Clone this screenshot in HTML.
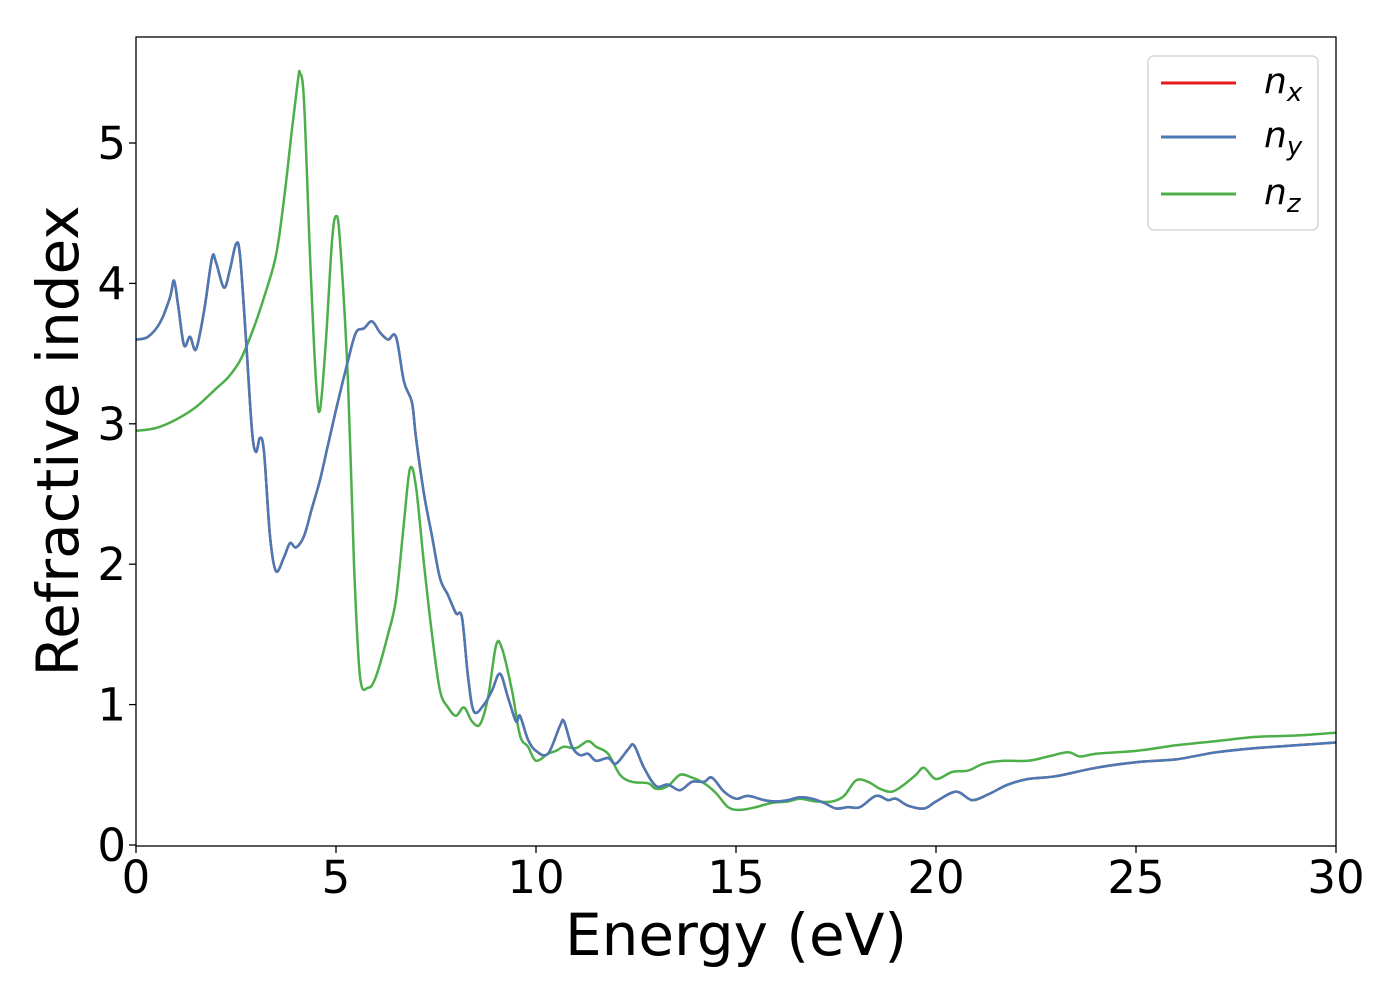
<!DOCTYPE html>
<html><head><meta charset="utf-8"><style>
body{margin:0;background:#fff;}
svg text{font-family:"DejaVu Sans","Liberation Sans",sans-serif;fill:#000;}
</style></head><body>
<svg id="chart" width="1400" height="1000" xmlns="http://www.w3.org/2000/svg">
<g id="plot"></g>
</svg>
<script>
const blueE=[0,0.3,0.6,0.85,0.95,1.05,1.2,1.35,1.5,1.7,1.9,2.0,2.2,2.35,2.5,2.6,2.75,2.9,3.0,3.1,3.2,3.35,3.5,3.7,3.85,4.0,4.2,4.4,4.6,4.8,5.0,5.3,5.5,5.7,5.9,6.1,6.3,6.5,6.7,6.9,7.0,7.2,7.4,7.6,7.8,8.0,8.15,8.3,8.45,8.7,8.9,9.1,9.3,9.5,9.6,9.8,10.0,10.3,10.6,10.7,10.9,11.1,11.3,11.5,11.8,12.0,12.3,12.45,12.7,13.0,13.3,13.6,13.9,14.2,14.4,14.7,15.0,15.3,15.7,16.0,16.3,16.6,16.9,17.2,17.5,17.8,18.1,18.5,18.8,19.0,19.3,19.7,20.0,20.5,20.9,21.3,21.8,22.3,23,24,25,26,27,28,29,30];
const blueN=[3.6,3.62,3.72,3.9,4.02,3.85,3.56,3.62,3.53,3.8,4.18,4.15,3.97,4.1,4.28,4.2,3.6,2.95,2.8,2.9,2.8,2.2,1.95,2.05,2.15,2.12,2.2,2.4,2.6,2.85,3.1,3.45,3.65,3.68,3.73,3.65,3.6,3.62,3.3,3.15,2.9,2.5,2.2,1.9,1.78,1.65,1.62,1.2,0.95,1.0,1.1,1.22,1.05,0.88,0.92,0.75,0.67,0.65,0.85,0.88,0.7,0.64,0.65,0.6,0.62,0.58,0.68,0.71,0.55,0.42,0.43,0.39,0.45,0.45,0.48,0.38,0.33,0.35,0.32,0.31,0.32,0.34,0.33,0.3,0.26,0.27,0.27,0.35,0.32,0.33,0.28,0.26,0.31,0.38,0.32,0.36,0.43,0.47,0.49,0.55,0.59,0.61,0.66,0.69,0.71,0.73];
const greenE=[0,0.5,1.0,1.5,2.0,2.3,2.6,2.9,3.2,3.5,3.7,3.9,4.05,4.1,4.2,4.35,4.5,4.6,4.75,4.9,5.0,5.1,5.3,5.45,5.6,5.8,6.0,6.3,6.5,6.7,6.85,7.0,7.2,7.4,7.6,7.8,8.0,8.2,8.4,8.6,8.8,9.0,9.15,9.4,9.6,9.8,10.0,10.3,10.5,10.7,11.0,11.3,11.5,11.8,12.1,12.4,12.8,13.0,13.3,13.6,13.9,14.2,14.5,14.8,15.1,15.5,15.9,16.3,16.6,17.0,17.4,17.7,18.0,18.3,18.6,18.9,19.2,19.5,19.7,20.0,20.4,20.8,21.2,21.7,22.3,22.8,23.3,23.6,24,25,26,27,28,29,30];
const greenN=[2.95,2.97,3.03,3.12,3.25,3.33,3.45,3.65,3.9,4.2,4.6,5.1,5.45,5.5,5.3,4.2,3.3,3.1,3.6,4.3,4.48,4.3,3.3,2.0,1.2,1.12,1.2,1.5,1.75,2.3,2.68,2.55,2.0,1.5,1.1,0.98,0.92,0.98,0.88,0.86,1.05,1.42,1.4,1.1,0.78,0.7,0.6,0.65,0.67,0.7,0.69,0.74,0.7,0.65,0.5,0.45,0.44,0.4,0.42,0.5,0.48,0.44,0.37,0.27,0.25,0.27,0.3,0.31,0.33,0.31,0.31,0.35,0.46,0.45,0.4,0.38,0.43,0.5,0.55,0.47,0.52,0.53,0.58,0.6,0.6,0.63,0.66,0.63,0.65,0.67,0.71,0.74,0.77,0.78,0.8];
const xTicks=[0,5,10,15,20,25,30];
const yTicks=[0,1,2,3,4,5];
const L=136,R=1336,T=37,B=846;
const xs=e=>L+(e/30)*(R-L);
const ys=n=>845-n*140.4;
const g=document.getElementById('plot');
const NS='http://www.w3.org/2000/svg';
function mk(t,a,p){const el=document.createElementNS(NS,t);for(const k in a)el.setAttribute(k,a[k]);(p||g).appendChild(el);return el;}
function pathD(E,N){const P=E.map((e,i)=>[xs(e),ys(N[i])]);let d='M'+P[0][0]+','+P[0][1];
for(let i=0;i<P.length-1;i++){const p0=P[i-1]||P[i],p1=P[i],p2=P[i+1],p3=P[i+2]||P[i+1];
const c1=[p1[0]+(p2[0]-p0[0])/6,p1[1]+(p2[1]-p0[1])/6],c2=[p2[0]-(p3[0]-p1[0])/6,p2[1]-(p3[1]-p1[1])/6];
d+=' C'+c1[0].toFixed(1)+','+c1[1].toFixed(1)+' '+c2[0].toFixed(1)+','+c2[1].toFixed(1)+' '+p2[0].toFixed(1)+','+p2[1].toFixed(1);}return d;}
const cp=mk('clipPath',{id:'cp'});mk('rect',{x:L,y:T,width:R-L,height:B-T},cp);
let s=mk('path',{d:pathD(blueE,blueN),fill:'none',stroke:'#e41a1c','stroke-width':2.5,'clip-path':'url(#cp)'});

s=mk('path',{d:pathD(greenE,greenN),fill:'none',stroke:'#4daf4a','stroke-width':2.5,'clip-path':'url(#cp)'});

s=mk('path',{d:pathD(blueE,blueN),fill:'none',stroke:'#4a7ab5','stroke-width':2.5,'clip-path':'url(#cp)'});

let f=mk('rect',{x:L,y:T,width:R-L,height:B-T,fill:'none',stroke:'#000','stroke-width':1.3});

xTicks.forEach(v=>{mk('line',{x1:xs(v),x2:xs(v),y1:B,y2:B+7,stroke:'#000','stroke-width':1.3});
const t=mk('text',{x:xs(v),y:893,'text-anchor':'middle','font-size':45});t.textContent=v;
});
yTicks.forEach(v=>{mk('line',{x1:L-7,x2:L,y1:ys(v),y2:ys(v),stroke:'#000','stroke-width':1.3});
const t=mk('text',{x:L-10,y:ys(v)+16,'text-anchor':'end','font-size':45});t.textContent=v;
});
let xl=mk('text',{x:736,y:955,'text-anchor':'middle','font-size':58});xl.textContent='Energy (eV)';

let yl=mk('text',{x:0,y:0,'text-anchor':'middle','font-size':58,transform:'translate(78,441) rotate(-90)'});yl.textContent='Refractive index';

const lg=mk('g',{});
mk('rect',{x:1148,y:56,width:170,height:174,rx:6,fill:'#fff',stroke:'#d0d0d0','stroke-width':1.3},lg);
const legNames=['x','y','z'];const legCols=['#e41a1c','#4a7ab5','#4daf4a'];const legY=[83,137,194];
legNames.forEach((nm,i)=>{mk('line',{x1:1161,x2:1236,y1:legY[i],y2:legY[i],stroke:legCols[i],'stroke-width':3},lg);
const t=mk('text',{x:1264,y:legY[i]+10,'font-size':36,'font-style':'italic'},lg);

t.innerHTML='n<tspan font-size="26" dy="8">'+nm+'</tspan>';});
</script>
</body></html>
